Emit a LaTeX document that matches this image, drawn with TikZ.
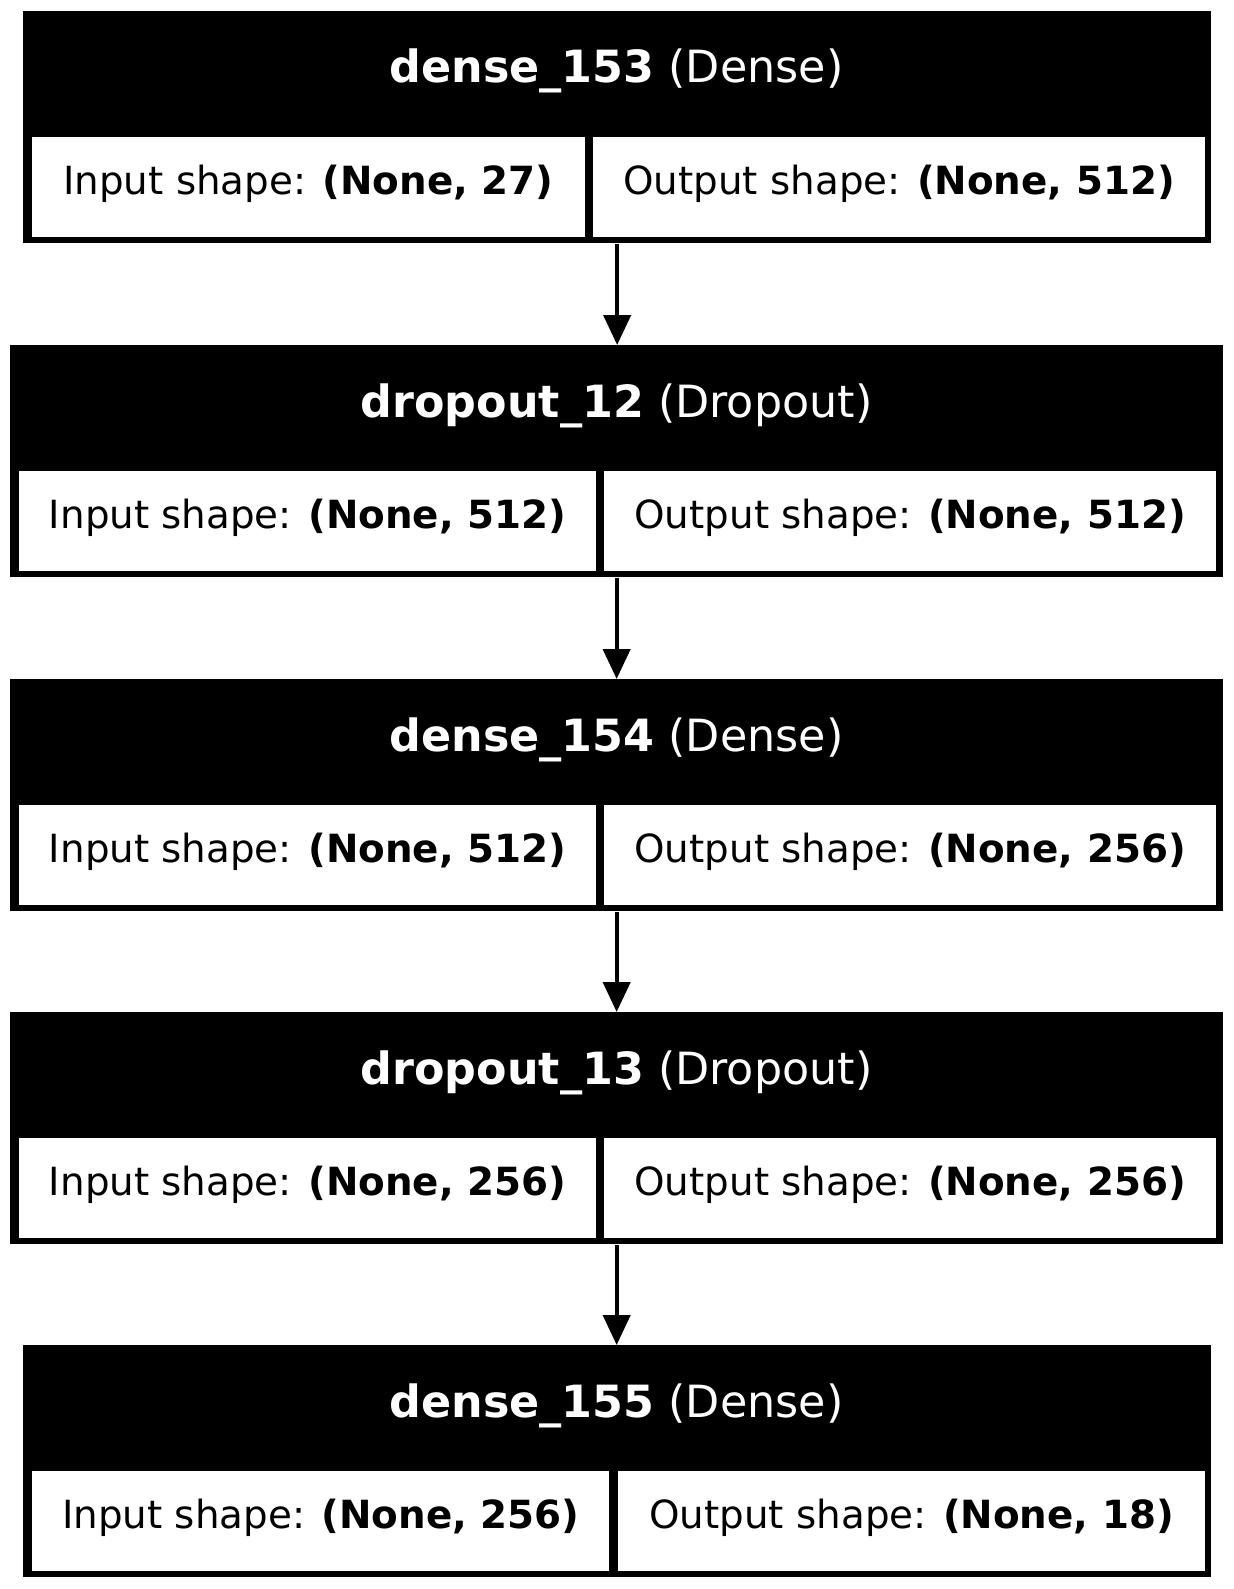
\documentclass[tikz,border=0pt]{standalone}
\usepackage{fontspec}
\setmainfont{DejaVu Sans}
\usetikzlibrary{calc,arrows.meta}

\begin{document}
\begin{tikzpicture}[x=0.5pt,y=-0.5pt,>={Triangle[length=15pt,width=13.5pt]},
    font=\fontsize{19.4pt}{23pt}\selectfont,
    layerbox/.style={fill=black,inner sep=0pt,minimum height=116pt,anchor=north west},
    cellbox/.style={fill=white,inner sep=0pt,minimum height=50pt,text height=14pt,text depth=7pt,anchor=north west},
    titletext/.style={text=white,inner sep=0pt,anchor=base,font=\fontsize{22.2pt}{26pt}\selectfont}]
    \useasboundingbox (0,0) rectangle (1233,1589);

    \foreach \i/\y/\xl/\w/\xa/\wa/\xb/\wb/\lname/\lkind/\lin/\lout in {%
      1/11/22.5/1188.5/31.6/552.8/593/611.4/dense\_153/Dense/27/512,
      2/345/10/1212.5/18.3/577.7/604/611.5/dropout\_12/Dropout/512/512,
      3/679/10/1212.5/18.3/577.7/604/611.5/dense\_154/Dense/512/256,
      4/1012/10/1212.5/18.3/577.7/604/611.5/dropout\_13/Dropout/256/256,
      5/1345/22.5/1188.5/31.6/577.4/618/586.4/dense\_155/Dense/256/18} {%
      \node[layerbox,minimum width=\w*0.5pt] (layer\i) at (\xl,\y) {};
      \node[titletext] (title\i) at (616.5,\y+72) {\textbf{\lname} (\lkind)};
      \node[cellbox,minimum width=\wa*0.5pt] (in\i) at (\xa,\y+125.7) {Input shape: \textbf{(None, \lin)}};
      \node[cellbox,minimum width=\wb*0.5pt] (out\i) at (\xb,\y+125.7) {Output shape: \textbf{(None, \lout)}};
    }

    \foreach \i [count=\j from 2] in {1,...,4}
      \draw[->,line width=2.15pt] (layer\i.south) -- (layer\i.south |- layer\j.north);
\end{tikzpicture}
\end{document}
